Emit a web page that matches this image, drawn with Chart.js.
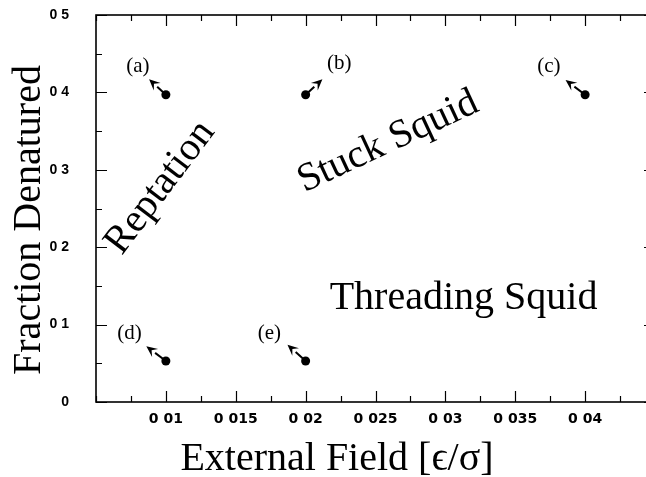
<!DOCTYPE html>
<html>
<head>
<meta charset="utf-8">
<script src="https://cdn.jsdelivr.net/npm/chart.js@4.4.1/dist/chart.umd.min.js"></script>
<style>
html, body { margin: 0; padding: 0; background: #fff; overflow: hidden; }
#wrap { width: 660px; height: 477px; }
</style>
</head>
<body>
<div id="wrap"><canvas id="c" width="660" height="477"></canvas></div>
<script>
// phase diagram points (a)..(e)
const pointNames = ['(a)', '(b)', '(c)', '(d)', '(e)'];
const fieldX     = [0.010, 0.020, 0.040, 0.010, 0.020];
const fracY      = [0.397, 0.397, 0.397, 0.053, 0.053];
// arrow tips, data units
const arrowX     = [0.0088, 0.0212, 0.0386, 0.0086, 0.0187];
const arrowY     = [0.417, 0.417, 0.416, 0.072, 0.074];
// label anchors, data units
const nameX      = [0.0080, 0.0224, 0.0374, 0.0074, 0.0174];
const nameY      = [0.434, 0.438, 0.434, 0.089, 0.089];

const regionNames = ['Reptation', 'Stuck Squid', 'Threading Squid'];
const regionX     = [0.0096, 0.0259, 0.0313];
const regionY     = [0.277, 0.336, 0.134];
const regionAngle = [-53, -25, 0];

const xTickValues = [0.01, 0.015, 0.02, 0.025, 0.03, 0.035, 0.04];
const xTickLabels = ['0 01', '0 015', '0 02', '0 025', '0 03', '0 035', '0 04'];
const yTickValues = [0, 0.1, 0.2, 0.3, 0.4, 0.5];
const yTickLabels = ['0', '0 1', '0 2', '0 3', '0 4', '0 5'];

const SERIF = '"Liberation Serif", "DejaVu Serif", serif';

function _find(v, vals) {
    return vals.findIndex(t => Math.abs(t - v) < 1e-6);
}

const frameAndMarks = {
    id: 'frameAndMarks',
    afterDatasetsDraw(chart) {
        const { ctx, chartArea: a, scales: { x, y } } = chart;
        ctx.save();
        ctx.strokeStyle = '#000';
        ctx.fillStyle = '#000';

        // inward tick marks on all four sides
        ctx.lineWidth = 1.2;
        ctx.beginPath();
        x.ticks.forEach(t => {
            const px = Math.round(x.getPixelForValue(t.value)) + 0.5;
            const len = _find(t.value, xTickValues) >= 0 ? 11 : 6;
            ctx.moveTo(px, a.bottom); ctx.lineTo(px, a.bottom - len);
            ctx.moveTo(px, a.top);    ctx.lineTo(px, a.top + len);
        });
        y.ticks.forEach(t => {
            const py = Math.round(y.getPixelForValue(t.value)) + 0.5;
            const len = _find(t.value, yTickValues) >= 0 ? 11 : 6;
            ctx.moveTo(a.left, py);  ctx.lineTo(a.left + len, py);
            ctx.moveTo(a.right, py); ctx.lineTo(a.right - len, py);
        });
        ctx.stroke();

        ctx.lineWidth = 1.6;
        ctx.strokeRect(a.left, a.top, a.right - a.left, a.bottom - a.top);

        // arrows from each point
        pointNames.forEach((n, i) => {
            const x0 = x.getPixelForValue(fieldX[i]), y0 = y.getPixelForValue(fracY[i]);
            const x1 = x.getPixelForValue(arrowX[i]), y1 = y.getPixelForValue(arrowY[i]);
            const ang = Math.atan2(y1 - y0, x1 - x0);
            const hl = 11, hw = 5;
            const bx = x1 - hl * Math.cos(ang), by = y1 - hl * Math.sin(ang);
            ctx.lineWidth = 2;
            ctx.beginPath(); ctx.moveTo(x0, y0); ctx.lineTo(bx, by); ctx.stroke();
            ctx.beginPath();
            ctx.moveTo(x1, y1);
            ctx.lineTo(bx - hw * Math.sin(ang), by + hw * Math.cos(ang));
            ctx.lineTo(x1 - 0.6 * hl * Math.cos(ang), y1 - 0.6 * hl * Math.sin(ang));
            ctx.lineTo(bx + hw * Math.sin(ang), by - hw * Math.cos(ang));
            ctx.closePath(); ctx.fill();

            ctx.font = '21px ' + SERIF;
            ctx.textAlign = 'center'; ctx.textBaseline = 'middle';
            ctx.fillText(n, x.getPixelForValue(nameX[i]), y.getPixelForValue(nameY[i]));
        });

        // region names
        ctx.font = '40px ' + SERIF;
        regionNames.forEach((r, i) => {
            ctx.save();
            ctx.translate(x.getPixelForValue(regionX[i]), y.getPixelForValue(regionY[i]));
            ctx.rotate(regionAngle[i] * Math.PI / 180);
            ctx.textAlign = 'center'; ctx.textBaseline = 'middle';
            ctx.fillText(r, 0, 0);
            ctx.restore();
        });

        // axis titles
        ctx.font = '40px ' + SERIF;
        ctx.textAlign = 'center'; ctx.textBaseline = 'middle';
        ctx.fillText('External Field [\u03F5/\u03C3]', a.left + 241, a.bottom + 57);
        ctx.save();
        ctx.translate(a.left - 67, a.top + 205);
        ctx.rotate(-Math.PI / 2);
        ctx.fillText('Fraction Denatured', 0, 0);
        ctx.restore();

        ctx.restore();
    }
};

new Chart(document.getElementById('c'), {
    type: 'scatter',
    data: {
        datasets: [{
            data: fieldX.map((v, i) => ({ x: v, y: fracY[i] })),
            backgroundColor: '#000', borderWidth: 0, pointRadius: 4.5,
        }],
    },
    options: {
        animation: false, responsive: false,
        layout: { padding: { top: 15, right: 5, left: 0, bottom: 0 } },
        plugins: { legend: { display: false }, tooltip: { enabled: false } },
        scales: {
            x: {
                type: 'linear', min: 0.005, max: 0.045,
                grid: { display: false, drawTicks: false }, border: { display: false },
                ticks: {
                    stepSize: 0.0025, autoSkip: false, maxRotation: 0, padding: 9, color: '#000',
                    font: { family: '"DejaVu Sans"', weight: 'bold', size: 14 },
                    callback: v => { const k = _find(v, xTickValues); return k >= 0 ? xTickLabels[k] : ''; },
                },
                afterFit: s => { s.height = 75; s.paddingLeft = 0; s.paddingRight = 0; },
            },
            y: {
                min: 0, max: 0.5,
                grid: { display: false, drawTicks: false }, border: { display: false },
                ticks: {
                    stepSize: 0.05, autoSkip: false, padding: 27, color: '#000',
                    font: { family: '"Liberation Sans"', weight: 'bold', size: 14 },
                    callback: v => { const k = _find(v, yTickValues); return k >= 0 ? yTickLabels[k] : ''; },
                },
                afterFit: s => { s.width = 96; s.paddingTop = 0; s.paddingBottom = 0; },
            },
        },
    },
    plugins: [frameAndMarks],
});
</script>
</body>
</html>
